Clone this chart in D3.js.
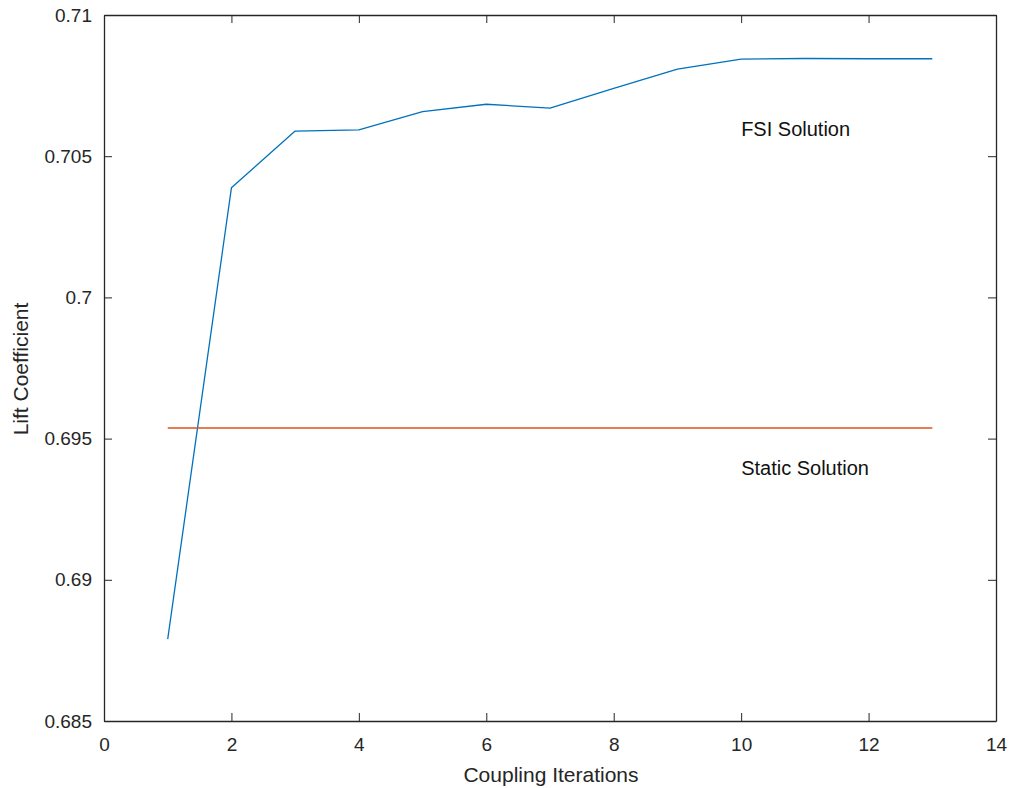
<!DOCTYPE html>
<html>
<head>
<meta charset="utf-8">
<script src="https://cdn.jsdelivr.net/npm/d3@7"></script>
<style>
  html, body { margin: 0; padding: 0; background: #fff; }
  svg { display: block; font-family: "Liberation Sans", Arial, Helvetica, sans-serif; }
</style>
</head>
<body>
<svg id="chart" width="1013" height="788"></svg>
<script>
const iterations = [1, 2, 3, 4, 5, 6, 7, 8, 9, 10, 11, 12, 13];
const fsiLift = [0.68790, 0.70388, 0.70589, 0.70593, 0.70658, 0.70684, 0.70670, 0.70740, 0.70808, 0.70844, 0.70846, 0.70845, 0.70845];
const staticLift = 0.695375;
const staticRange = [1, 13];
const xTicks = [0, 2, 4, 6, 8, 10, 12, 14];
const yTicks = [0.685, 0.69, 0.695, 0.7, 0.705, 0.71];
const yTickLabels = ["0.685", "0.69", "0.695", "0.7", "0.705", "0.71"];
const annotations = [
  { x: 10, y: 0.706, text: "FSI Solution" },
  { x: 10, y: 0.694, text: "Static Solution" }
];

const svg = d3.select("#chart");
const L = 104, R = 996, T = 15, B = 721;
const x = d3.scaleLinear().domain([0, 14]).range([L, R]);
const y = d3.scaleLinear().domain([0.685, 0.71]).range([B, T]);
const axisColor = "#262626";
const tickLen = 8;

// data lines
const line = d3.line().x(d => x(d[0])).y(d => y(d[1]));
svg.append("path")
  .datum(iterations.map((it, i) => [it, fsiLift[i]]))
  .attr("d", line).attr("fill", "none")
  .attr("stroke", "#0072BD").attr("stroke-width", 1.3).attr("stroke-linejoin", "round");
svg.append("path")
  .datum(staticRange.map(v => [v, staticLift]))
  .attr("d", line).attr("fill", "none")
  .attr("stroke", "#D95319").attr("stroke-width", 1.3);

// axes (ticks inward on all four sides)
const fmtY = (d) => yTickLabels[yTicks.indexOf(d)];
const gB = svg.append("g").attr("transform", `translate(0,${B})`)
  .call(d3.axisBottom(x).tickValues(xTicks).tickSizeInner(-tickLen).tickSizeOuter(0).tickPadding(17));
const gT = svg.append("g").attr("transform", `translate(0,${T})`)
  .call(d3.axisTop(x).tickValues(xTicks).tickSizeInner(-tickLen).tickSizeOuter(0).tickFormat(""));
const gL = svg.append("g").attr("transform", `translate(${L},0)`)
  .call(d3.axisLeft(y).tickValues(yTicks).tickSizeInner(-tickLen).tickSizeOuter(0).tickPadding(12).tickFormat(fmtY));
const gR = svg.append("g").attr("transform", `translate(${R},0)`)
  .call(d3.axisRight(y).tickValues(yTicks).tickSizeInner(-tickLen).tickSizeOuter(0).tickFormat(""));

[gB, gT, gL, gR].forEach(g => {
  g.select(".domain").attr("stroke", axisColor).attr("stroke-width", 1.3);
  g.selectAll(".tick line").attr("stroke", axisColor).attr("stroke-width", 1);
  g.selectAll(".tick text").attr("fill", axisColor).attr("font-size", 19)
    .attr("font-family", "'Liberation Sans', Arial, sans-serif");
});

// axis labels
svg.append("text").attr("x", (L + R) / 2 + 1).attr("y", 782)
  .attr("text-anchor", "middle").attr("font-size", 21).attr("fill", axisColor)
  .text("Coupling Iterations");
svg.append("text").attr("transform", `translate(28,369) rotate(-90)`)
  .attr("text-anchor", "middle").attr("font-size", 21).attr("fill", axisColor)
  .text("Lift Coefficient");

// annotations
svg.selectAll(".anno").data(annotations).enter().append("text")
  .attr("class", "anno")
  .attr("x", d => x(d.x)).attr("y", d => y(d.y))
  .attr("dy", "0.4em")
  .attr("font-size", 20).attr("fill", "#111")
  .text(d => d.text);
</script>
</body>
</html>
